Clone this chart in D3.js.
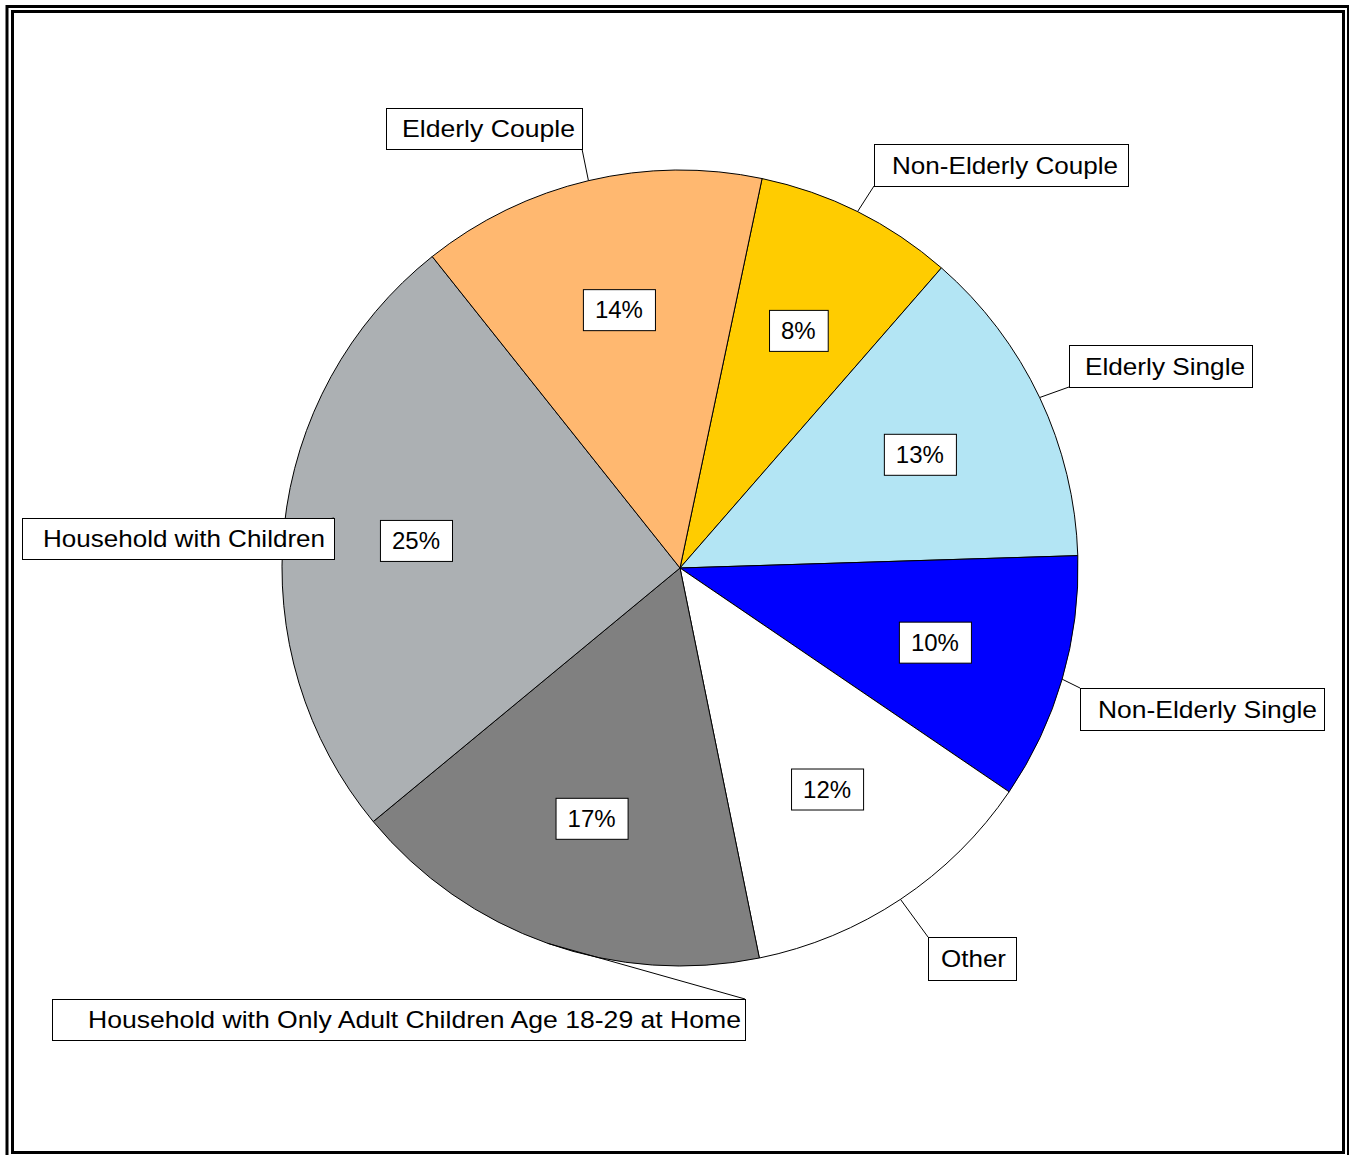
<!DOCTYPE html>
<html>
<head>
<meta charset="utf-8">
<script src="https://cdn.jsdelivr.net/npm/d3@7"></script>
<style>
  html, body { margin: 0; padding: 0; background: #fff; }
  svg { display: block; }
  text { font-family: "Liberation Sans", Arial, sans-serif; }
</style>
</head>
<body>
<div id="chart"></div>
<script>
// ---- data ----
const categories = [
  "Non-Elderly Couple",
  "Elderly Single",
  "Non-Elderly Single",
  "Other",
  "Household with Only Adult Children Age 18-29 at Home",
  "Household with Children",
  "Elderly Couple"
];
const values = [8.1, 13.1, 10.0, 12.3, 17.2, 25.3, 14.0];
const colors = ["#FFCC00", "#B3E5F4", "#0000FF", "#FFFFFF", "#808080", "#ACB0B3", "#FFB870"];

// ---- layout ----
const W = 1349, H = 1155;
const cx = 680, cy = 568, R = 398;
const startDeg = 11.9;

// category label boxes relative to pie centre: [left, top, width, height, textWidth, rightPad]
const labelBoxes = {
  "Non-Elderly Couple": [194, -424, 254, 42, 226, 10],
  "Elderly Single": [389, -223, 183, 42, 160, 7],
  "Non-Elderly Single": [400, 120, 244, 42, 219, 7],
  "Other": [248, 369, 88, 43, 65, 10],
  "Household with Only Adult Children Age 18-29 at Home": [-628, 431, 693, 41, 653, 4],
  "Household with Children": [-658, -50, 312, 41, 282, 9],
  "Elderly Couple": [-294, -460, 196, 41, 173, 7]
};

const svg = d3.select("#chart").append("svg")
  .attr("width", W).attr("height", H);

svg.append("rect").attr("width", W).attr("height", H).attr("fill", "#fff");

// double frame
svg.append("rect").attr("x", 7).attr("y", 6.5).attr("width", 1341.5).attr("height", 1160)
  .attr("fill", "none").attr("stroke", "#000").attr("stroke-width", 3);
svg.append("rect").attr("x", 12.5).attr("y", 11.5).attr("width", 1331).attr("height", 1141)
  .attr("fill", "none").attr("stroke", "#000").attr("stroke-width", 3);

const data = categories.map((c, i) => ({ name: c, value: values[i], color: colors[i] }));

const start = startDeg * Math.PI / 180;
const pie = d3.pie().sort(null).value(d => d.value)
  .startAngle(start).endAngle(start + 2 * Math.PI);
const arcs = pie(data);

const arc = d3.arc().innerRadius(0).outerRadius(R);

const g = svg.append("g").attr("transform", `translate(${cx},${cy})`);

g.selectAll("path.slice").data(arcs).enter().append("path")
  .attr("class", "slice")
  .attr("d", arc)
  .attr("fill", d => d.data.color)
  .attr("stroke", "#000")
  .attr("stroke-width", 1)
  .attr("stroke-linejoin", "round");

// leader lines + category labels
arcs.forEach(a => {
  const mid = (a.startAngle + a.endAngle) / 2;
  const ex = R * Math.sin(mid), ey = -R * Math.cos(mid);
  const [bl, bt, bw, bh, tw, rp] = labelBoxes[a.data.name];
  const corners = [[bl, bt], [bl + bw, bt], [bl, bt + bh], [bl + bw, bt + bh]];
  let best = corners[0], bd = Infinity;
  corners.forEach(c => {
    const dd = (c[0] - ex) ** 2 + (c[1] - ey) ** 2;
    if (dd < bd) { bd = dd; best = c; }
  });
  g.append("line")
    .attr("x1", ex).attr("y1", ey).attr("x2", best[0]).attr("y2", best[1])
    .attr("stroke", "#000").attr("stroke-width", 1);
  g.append("rect")
    .attr("x", bl + 0.5).attr("y", bt + 0.5).attr("width", bw).attr("height", bh)
    .attr("fill", "#fff").attr("stroke", "#000").attr("stroke-width", 1);
  g.append("text")
    .attr("x", bl + bw - rp).attr("y", bt + bh / 2 + 8.5)
    .attr("text-anchor", "end")
    .attr("font-size", 24)
    .attr("fill", "#000")
    .attr("textLength", tw)
    .attr("lengthAdjust", "spacingAndGlyphs")
    .text(a.data.name);
});

// percentage labels
const labelArc = d3.arc().innerRadius(R * 0.667).outerRadius(R * 0.667);
arcs.forEach(a => {
  const c = labelArc.centroid(a);
  const lg = g.append("g").attr("transform", `translate(${c[0]},${c[1]})`);
  const t = lg.append("text")
    .attr("x", 0).attr("y", 8.5)
    .attr("text-anchor", "middle")
    .attr("font-size", 24)
    .attr("fill", "#000")
    .text(Math.round(a.data.value) + "%");
  const w = t.node().getComputedTextLength() + 24;
  lg.insert("rect", "text")
    .attr("x", -w / 2 + 0.5).attr("y", -20.5 + 0.5).attr("width", w).attr("height", 41)
    .attr("fill", "#fff").attr("stroke", "#000").attr("stroke-width", 1);
});
</script>
</body>
</html>
